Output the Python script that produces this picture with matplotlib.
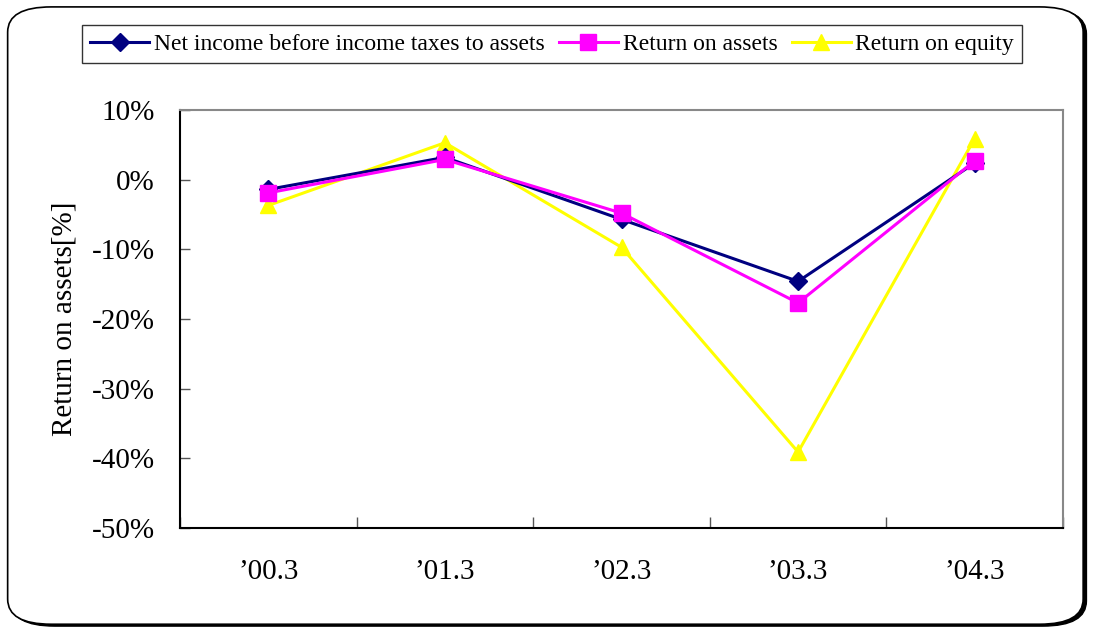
import numpy as np
import matplotlib.pyplot as plt
from matplotlib.patches import FancyBboxPatch
from matplotlib.ticker import FixedLocator, FuncFormatter

# data (percent)
periods = ["\u201900.3", "\u201901.3", "\u201902.3", "\u201903.3", "\u201904.3"]
net_income_to_assets = [-1.4, 3.2, -5.7, -14.6, 2.4]
return_on_assets = [-1.9, 2.9, -4.8, -17.7, 2.7]
return_on_equity = [-3.7, 5.3, -9.7, -39.1, 5.9]

plt.rcParams['font.family'] = ['Liberation Serif', 'DejaVu Serif']

fig = plt.figure(figsize=(10.93, 6.28), dpi=100)

# rounded outer frame with a small shadow
shadow = FancyBboxPatch((0.010, 0.003), 0.984, 0.983, boxstyle="round,pad=0,rounding_size=0.04",
                        transform=fig.transFigure, facecolor='black', edgecolor='black', zorder=-2)
frame = FancyBboxPatch((0.007, 0.006), 0.984, 0.983, boxstyle="round,pad=0,rounding_size=0.04",
                       transform=fig.transFigure, facecolor='white', edgecolor='black', lw=1.2, zorder=-1)
fig.patches.extend([shadow, frame])

ax = fig.add_axes([180/1093, 1-528/628, (1063-180)/1093, (528-110)/628])
ax.set_facecolor('none')

x = np.arange(len(periods))
ax.plot(x, net_income_to_assets, color='#000080', lw=2.2, marker='D', ms=9.5,
        label='Net income before income taxes to assets', zorder=3)
ax.plot(x, return_on_assets, color='#FF00FF', lw=2.2, marker='s', ms=11,
        label='Return on assets', zorder=4)
ax.plot(x, return_on_equity, color='#FFFF00', lw=2.2, marker='^', ms=12,
        label='Return on equity', zorder=2)

ax.set_xlim(-0.5, 4.5)
ax.set_ylim(-50, 10)
ax.yaxis.set_major_locator(FixedLocator(np.arange(-50, 11, 10)))
ax.yaxis.set_major_formatter(FuncFormatter(lambda v, p: f"{v:.0f}%"))
ax.xaxis.set_major_locator(FixedLocator(np.arange(-0.5, 4.6, 1)))
ax.xaxis.set_major_formatter(FuncFormatter(lambda v, p: ""))
ax.xaxis.set_minor_locator(FixedLocator(x))
ax.set_xticklabels(periods, minor=True)
ax.tick_params(axis='x', which='minor', length=0, pad=22, labelsize=21)
ax.tick_params(axis='x', which='major', direction='in', length=8, width=1, color='#555555')
ax.tick_params(axis='y', direction='in', length=7, width=1, color='#555555', labelsize=21, pad=18)

ax.spines['left'].set_color('black')
ax.spines['bottom'].set_color('black')
ax.spines['top'].set_color('#888888')
ax.spines['right'].set_color('#888888')
for s in ax.spines.values():
    s.set_linewidth(1.5)

ax.set_ylabel('Return on assets[%]', fontsize=21, labelpad=10)

leg = ax.legend(loc='upper left', bbox_to_anchor=(82/1093, 1-25/628), bbox_transform=fig.transFigure,
                ncol=3, fontsize=17, frameon=True, fancybox=False, edgecolor='black',
                handlelength=2.5, handletextpad=0.2, columnspacing=0.6, borderpad=0.35,
                borderaxespad=0)
leg.get_frame().set_linewidth(1.0)

fig.savefig('out.png', dpi=100)
